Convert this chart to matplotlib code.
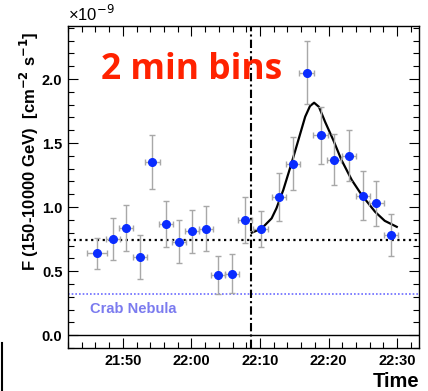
import matplotlib
matplotlib.use("Agg")
import matplotlib.pyplot as plt
from matplotlib.ticker import MultipleLocator, FuncFormatter
from matplotlib.lines import Line2D

# time in minutes after 21:00, flux in units of 1e-9 cm^-2 s^-1
t_pts = [46.2, 48.6, 50.5, 52.5, 54.3, 56.3, 58.2, 60.1, 62.1, 63.9, 65.9,
         67.8, 70.1, 72.8, 74.8, 76.8, 78.85, 80.8, 83.0, 85.0, 87.0, 89.1]
t_err = [1.5, 1.05, 1.05, 1.05, 1.05, 1.05, 1.05, 1.05, 1.05, 1.05, 1.05,
         1.05, 1.05, 1.05, 1.05, 1.05, 1.05, 1.05, 1.05, 1.05, 1.05, 1.05]
flux = [0.64, 0.75, 0.84, 0.61, 1.35, 0.87, 0.73, 0.81, 0.83, 0.47, 0.48,
        0.90, 0.83, 1.08, 1.34, 2.05, 1.56, 1.37, 1.40, 1.09, 1.03, 0.78]
flux_err = [0.12, 0.165, 0.18, 0.17, 0.21, 0.18, 0.17, 0.17, 0.175, 0.15, 0.15,
            0.18, 0.14, 0.19, 0.21, 0.245, 0.22, 0.20, 0.20, 0.19, 0.175, 0.165]

# fitted flare profile
t_fit = [68.8, 70.25, 71.7, 72.4, 73.4, 74.6, 75.6, 76.6, 77.3, 77.9, 78.6,
         79.5, 80.7, 81.9, 83.4, 84.85, 86.8, 88.2, 89.96]
f_fit = [0.80, 0.833, 0.912, 0.99, 1.133, 1.341, 1.523, 1.706, 1.789, 1.815,
         1.783, 1.666, 1.523, 1.367, 1.211, 1.094, 0.963, 0.893, 0.846]

mean_level = 0.742
crab_level = 0.318
t_split = 68.7

narrow = ["Liberation Sans Narrow", "Liberation Sans"]

fig = plt.figure(figsize=(4.28, 3.91), dpi=100)
ax = fig.add_axes([68 / 428, 43 / 391, 351 / 428, 322 / 391])

ax.axhline(0, color="black", lw=1.0)
ax.axhline(mean_level, color="black", lw=1.6, ls=(0, (1, 1.6)))
ax.axhline(crab_level, color="#6b6bff", lw=1.2, ls=(0, (1, 1.2)))
ax.axvline(t_split, color="black", lw=1.5, ls=(0, (4, 1.5, 1, 1.5)))

ax.errorbar(t_pts, flux, xerr=t_err, yerr=flux_err, fmt="o", color="#0a2cff",
            ms=5.5, ecolor="#a8a8a8", elinewidth=1.0, capsize=2, capthick=1.0,
            zorder=4)
ax.plot(t_fit, f_fit, color="black", lw=1.6, zorder=3)

ax.set_xlim(42, 93.2)
ax.set_ylim(-0.1, 2.414)

ax.xaxis.set_major_locator(MultipleLocator(10))
ax.xaxis.set_minor_locator(MultipleLocator(2))
ax.yaxis.set_major_locator(MultipleLocator(0.5))
ax.yaxis.set_minor_locator(MultipleLocator(0.1))
ax.xaxis.set_major_formatter(FuncFormatter(
    lambda m, pos: f"{21 + int(m // 60)}:{int(round(m % 60)):02d}"))
ax.yaxis.set_major_formatter(FuncFormatter(lambda v, pos: f"{v:.1f}"))

ax.tick_params(which="both", direction="in", top=True, right=True, width=0.8)
ax.tick_params(which="major", length=7, labelsize=10.5, pad=4)
ax.tick_params(which="minor", length=4)
for lab in ax.get_xticklabels() + ax.get_yticklabels():
    lab.set_fontfamily("Liberation Sans")
    lab.set_fontweight("bold")
for s in ax.spines.values():
    s.set_linewidth(1.0)

ax.set_ylabel("F (150-10000 GeV)  [cm$^{\\mathbf{-2}}$ s$^{\\mathbf{-1}}$]",
              fontsize=12, fontweight="bold", family="Liberation Sans")
ax.yaxis.set_label_coords(-27 / 351, (391 - 151 - 43) / 322)

ax.text(0.0, 1.005, "\u00d710$^{-9}$", transform=ax.transAxes, fontsize=12,
        family="Liberation Sans", ha="left", va="bottom")
fig.text(101 / 428, (391 - 79) / 391, "2 min bins", fontsize=25.5,
         fontweight="bold", family="Open Sans", color="#ff2200",
         ha="left", va="baseline")
fig.text(90 / 428, (391 - 313) / 391, "Crab Nebula", fontsize=10.5,
         fontweight="bold", family=narrow, color="#7b7bef",
         ha="left", va="baseline")
fig.text(419 / 428, (391 - 387) / 391, "Time", fontsize=14.5,
         fontweight="bold", family=narrow, ha="right", va="baseline")

fig.add_artist(Line2D([1.5 / 428, 1.5 / 428], [0, 48 / 391], color="black",
                      lw=1.5))

fig.savefig("out.png", dpi=100)
